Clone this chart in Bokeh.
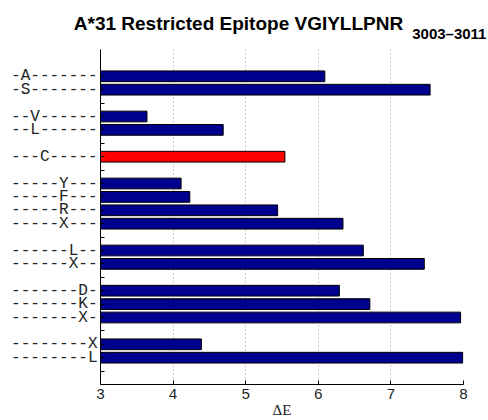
from bokeh.plotting import figure
from bokeh.models import FixedTicker, Range1d, Title, ColumnDataSource
from bokeh.embed import file_html
from bokeh.resources import INLINE

# ---- data ----
labels = ["-A-------", "-S-------", "--V------", "--L------", "---C-----",
          "-----Y---", "-----F---", "-----R---", "-----X---",
          "------L--", "------X--", "-------D-", "-------K-", "-------X-",
          "--------X", "--------L"]
delta_e = [6.09, 7.54, 3.64, 4.69, 5.54,
           4.11, 4.23, 5.44, 6.34,
           6.62, 7.46, 6.29, 6.71, 7.96,
           4.39, 7.99]
# epitope position of each substitution (used for grouping)
epitope_pos = [2, 2, 3, 3, 4, 6, 6, 6, 6, 7, 7, 8, 8, 8, 9, 9]
highlight = ["---C-----"]
x_ticks = [3, 4, 5, 6, 7, 8]
title_main = "A*31 Restricted Epitope VGIYLLPNR"
title_sub = "3003\u20133011"
x_label = "\u0394E"

# ---- layout of slots (groups separated by an empty slot) ----
slots = []
s = 2
prev = None
for g in epitope_pos:
    if prev is not None:
        s += 1 if g == prev else 2
    slots.append(s)
    prev = g
n_slots = slots[-1] + 2
gap_ticks = [t for t in range(2, n_slots) if t not in slots]

colors = ["#ff0000" if l in highlight else "#00008f" for l in labels]
src = ColumnDataSource(dict(y=slots, right=delta_e, color=colors, lab=labels))

p = figure(width=488, height=420, output_backend="svg", toolbar_location=None,
           x_range=Range1d(3, 8), y_range=Range1d(n_slots, 0),
           title_location=None,
           min_border_left=100, min_border_right=25,
           min_border_top=49, min_border_bottom=34)
p.outline_line_color = None
p.background_fill_color = "white"
p.border_fill_color = "white"

p.hbar(y="y", left=3, right="right", height=0.8, fill_color="color",
       line_color="black", line_width=1, source=src)

# axes
p.xaxis.ticker = FixedTicker(ticks=x_ticks)
p.xaxis.major_tick_in = 4
p.xaxis.major_tick_out = 0
p.xaxis.minor_tick_line_color = None
p.xaxis.major_label_text_font = "Liberation Mono"
p.xaxis.major_label_text_font_size = "15px"
p.xaxis.major_label_text_color = "#222222"
p.xaxis.major_label_standoff = 4
p.xaxis.axis_label = x_label
p.xaxis.axis_label_text_font = "Liberation Serif"
p.xaxis.axis_label_text_font_style = "normal"
p.xaxis.axis_label_text_font_size = "15px"
p.xaxis.axis_label_text_color = "#222222"
p.xaxis.axis_label_standoff = 0
p.xaxis.axis_line_color = "black"

p.yaxis.ticker = FixedTicker(ticks=sorted(slots + gap_ticks))
overrides = {sl: lab for sl, lab in zip(slots, labels)}
overrides.update({g: "" for g in gap_ticks})
p.yaxis.major_label_overrides = overrides
p.yaxis.major_tick_in = 4
p.yaxis.major_tick_out = 0
p.yaxis.minor_tick_line_color = None
p.yaxis.major_label_text_font = "Liberation Mono"
p.yaxis.major_label_text_font_size = "16px"
p.yaxis.major_label_text_color = "#222222"
p.yaxis.major_label_standoff = 3
p.yaxis.axis_line_color = "black"

p.ygrid.grid_line_color = None
p.xgrid.grid_line_color = "#999999"
p.xgrid.grid_line_dash = "1 3"
p.xgrid.grid_line_width = 1

# title with subscript: the subscript panel sits nearest the plot
p.add_layout(Title(text=title_sub, align="left", offset=311.7,
                   text_font="Liberation Sans", text_font_style="bold",
                   text_font_size="15px", text_color="black", standoff=14.6), "above")
p.add_layout(Title(text=title_main, align="left", offset=-26.7,
                   text_font="Liberation Sans", text_font_style="bold",
                   text_font_size="19px", text_color="black", standoff=-37), "above")

open("out.html", "w").write(file_html(p, INLINE))
